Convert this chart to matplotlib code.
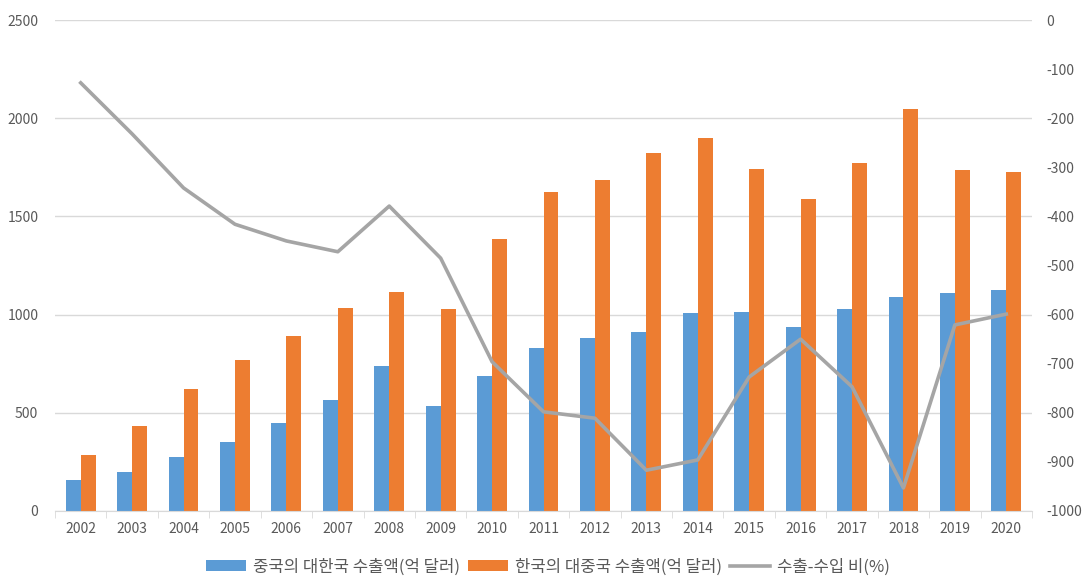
import matplotlib
matplotlib.use("Agg")
import matplotlib.pyplot as plt
import numpy as np

plt.rcParams['font.family'] = ['Noto Sans CJK KR', 'DejaVu Sans']
plt.rcParams['axes.unicode_minus'] = False

years = [str(y) for y in range(2002, 2021)]
china_to_korea = [158, 199, 275, 351, 448, 565, 738, 535, 687, 830, 881, 911,
                  1008, 1013, 937, 1028, 1090, 1110, 1125]
korea_to_china = [285, 433, 621, 769, 891, 1034, 1115, 1028, 1385, 1624, 1685,
                  1823, 1899, 1741, 1589, 1772, 2047, 1736, 1726]
ratio = [-128, -232, -342, -416, -450, -472, -379, -485, -696, -798, -811,
         -917, -896, -727, -650, -747, -953, -621, -599]

series_names = ['중국의 대한국 수출액(억 달러)', '한국의 대중국 수출액(억 달러)', '수출-수입 비(%)']

BLUE = '#5B9BD5'
ORANGE = '#ED7D31'
GRAY = '#A5A5A5'
TXT = '#595959'
GRID = '#D9D9D9'

fig = plt.figure(figsize=(10.9, 5.8), dpi=100)
ax = fig.add_axes([55/1090, 1 - 511/580, (1032 - 55)/1090, (511 - 20)/580])
ax2 = ax.twinx()

x = np.arange(len(years))
w = 0.29
b1 = ax.bar(x - w/2, china_to_korea, w, color=BLUE, label=series_names[0], zorder=2)
b2 = ax.bar(x + w/2, korea_to_china, w, color=ORANGE, label=series_names[1], zorder=2)

ax.set_xlim(-0.5, len(years) - 0.5)
ax.set_ylim(0, 2500)
ax.set_yticks(range(0, 2501, 500))
ax.yaxis.grid(True, color=GRID, linewidth=1, zorder=0)
ax.set_axisbelow(True)
ax.set_xticks(x)
ax.set_xticklabels(years)
ax.set_xticks(np.arange(-0.5, len(years), 1), minor=True)
ax.tick_params(axis='x', which='major', length=0, pad=8, labelsize=10, labelcolor=TXT)
ax.tick_params(axis='x', which='minor', length=5, color=GRID, direction='out')
ax.tick_params(axis='y', length=0, pad=12, labelsize=10, labelcolor=TXT)

line, = ax2.plot(x, ratio, color=GRAY, linewidth=2.6, label=series_names[2], zorder=3)
ax2.set_ylim(-1000, 0)
ax2.set_yticks(range(-1000, 1, 100))
ax2.tick_params(axis='y', length=0, pad=10, labelsize=10, labelcolor=TXT)

for a in (ax, ax2):
    for side in ('top', 'left', 'right'):
        a.spines[side].set_visible(False)
ax.spines['bottom'].set_color(GRID)
ax2.spines['bottom'].set_visible(False)

fig.legend([b1, b2, line], series_names, loc='center', bbox_to_anchor=(548/1090, 1 - 567/580),
           ncol=3, frameon=False, fontsize=12, labelcolor=TXT, handlelength=2.4,
           handleheight=0.6, columnspacing=0.5, handletextpad=0.4)

fig.savefig('out.png', dpi=100)
